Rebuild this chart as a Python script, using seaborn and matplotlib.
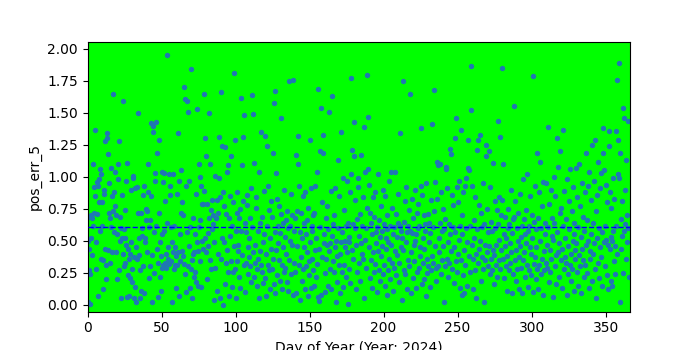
import numpy as np
import pandas as pd
import matplotlib
matplotlib.use("Agg")
import matplotlib.pyplot as plt
import seaborn as sns

samples_per_day = 3
mean_line = 0.61
x_label = "Day of Year (Year: 2024)"
y_label = "pos_err_5"

# pos_err_5 values, 3 samples per day, day 0..365 (10 days per row)
pos_err_5 = [
 0.02,0.50,0.69, 0.27,0.44,0.01, 0.24,0.52,0.70, 0.39,0.68,0.62, 1.10,0.92,0.72, 1.37,0.85,0.49, 0.28,0.96,0.71, 0.07,0.93,0.80, 0.98,0.58,1.06, 0.36,1.02,0.62,
 0.80,0.35,0.12, 0.87,0.90,0.44, 1.28,0.31,0.20, 1.30,1.34,0.43, 1.18,0.72,0.95, 0.33,0.68,0.61, 1.07,0.85,0.41, 1.65,0.73,0.88, 0.57,0.77,1.04, 0.41,0.70,0.55,
 0.20,0.98,1.10, 0.27,1.28,0.69, 0.50,0.60,0.05, 0.52,0.86,0.40, 1.59,0.59,0.30, 0.33,0.52,0.74, 0.47,0.97,0.06, 1.11,0.23,0.44, 0.36,0.07,0.21, 0.40,0.49,0.90,
 0.28,0.18,0.99, 1.01,0.05,0.37, 0.91,0.14,0.45, 0.02,0.36,0.92, 1.50,0.72,0.52, 0.39,0.05,0.27, 0.72,0.11,0.60, 0.54,0.30,0.86, 0.93,0.09,0.52, 0.49,0.66,0.75,
 0.73,0.41,0.88, 1.10,0.61,0.21, 0.66,0.30,0.85, 1.42,0.39,0.02, 1.35,1.40,0.57, 0.25,0.97,1.03, 1.43,0.62,0.44, 1.19,0.33,0.06, 1.29,0.72,0.22, 0.49,0.38,0.11,
 1.04,0.55,0.29, 0.96,0.31,0.58, 1.03,0.33,0.81, 0.40,0.29,0.64, 1.95,0.45,0.36, 1.02,0.32,0.86, 0.93,0.61,0.34, 0.49,0.02,0.41, 1.02,0.62,0.28, 0.31,0.45,0.13,
 0.38,0.87,0.31, 1.34,0.41,0.07, 0.97,0.34,0.55, 0.72,1.05,0.42, 0.80,0.38,0.70, 1.70,0.32,0.24, 1.61,0.93,0.10, 1.59,0.57,0.30, 1.51,0.97,0.46, 0.13,0.61,0.28,
 1.84,0.35,0.05, 0.68,0.40,0.22, 0.41,0.26,0.55, 0.87,0.18,0.49, 1.53,0.15,0.42, 1.10,0.61,0.34, 1.00,0.66,0.14, 0.93,0.50,0.79, 0.79,0.44,0.89, 1.65,1.30,0.52,
 1.16,0.41,0.20, 0.79,0.46,0.56, 1.50,0.68,0.35, 1.10,0.74,0.28, 0.59,0.82,0.63, 0.70,0.49,0.04, 1.01,0.29,0.68, 0.68,0.11,0.82, 0.40,0.72,0.99, 1.31,0.84,0.05,
 1.66,0.36,0.52, 1.24,0.88,0.00, 0.49,0.77,0.16, 1.23,0.33,0.71, 1.04,0.43,0.26, 1.09,0.68,0.07, 0.85,0.54,0.34, 1.16,0.14,0.62, 0.26,0.80,0.46, 1.81,1.29,0.28,
 0.58,0.05,0.72, 0.88,0.34,0.47, 0.42,0.68,0.22, 0.75,0.13,0.58, 1.62,1.09,0.39, 1.31,0.81,0.31, 1.48,0.64,0.10, 0.33,0.57,0.86, 0.78,0.24,0.45, 0.52,0.37,0.68,
 0.30,0.91,0.18, 1.64,0.61,0.41, 1.49,1.11,0.22, 0.47,0.33,0.76, 0.84,0.28,0.15, 0.36,0.58,0.05, 1.04,0.42,0.64, 1.35,0.31,0.26, 0.69,0.17,0.49, 0.89,0.55,0.21,
 1.32,0.40,0.07, 1.24,0.62,0.31, 0.93,0.27,0.74, 0.52,0.12,0.44, 0.81,0.69,0.28, 1.19,0.36,0.16, 1.58,0.57,0.09, 1.67,1.03,0.43, 0.83,0.23,0.62, 0.48,0.77,0.35,
 0.56,0.19,0.71, 1.46,0.31,0.12, 0.64,0.45,0.26, 0.90,0.29,0.53, 0.40,0.66,0.18, 0.73,0.11,0.60, 1.75,0.35,0.50, 0.62,0.87,0.24, 0.47,0.70,0.08, 1.76,0.33,0.58,
 0.68,0.26,0.09, 1.17,0.73,0.46, 1.32,1.10,0.31, 0.93,0.57,0.04, 0.72,0.37,0.19, 0.52,0.85,0.28, 0.64,0.45,0.12, 0.88,0.30,0.55, 0.41,0.66,0.07, 0.76,0.23,0.34,
 1.29,0.49,0.13, 0.91,0.36,0.62, 0.58,0.27,0.70, 0.72,0.15,0.43, 0.93,0.52,0.22, 1.04,0.32,0.06, 1.69,0.44,0.03, 1.20,0.61,0.08, 1.54,0.80,0.37, 1.33,1.19,0.48,
 0.55,0.25,0.10, 0.68,0.36,0.47, 0.77,0.15,0.59, 1.51,0.42,0.28, 0.48,0.89,0.12, 1.63,0.54,0.34, 0.63,0.26,0.70, 0.91,0.45,0.02, 0.50,0.18,0.38, 1.13,0.60,0.31,
 0.85,0.40,0.09, 1.35,0.49,0.26, 0.57,0.99,0.14, 0.74,0.31,0.45, 0.50,0.62,0.22, 0.97,0.41,0.01, 0.64,0.28,0.53, 0.49,0.88,0.17, 1.77,1.02,0.43, 1.21,0.63,0.36,
 1.43,1.16,0.60, 0.82,0.47,0.12, 0.67,0.26,0.92, 0.99,0.33,0.54, 0.71,0.19,0.48, 1.17,0.62,0.40, 0.84,0.36,0.05, 1.39,1.04,0.51, 0.60,0.29,0.76, 1.80,1.47,1.06,
 0.94,0.45,0.21, 0.72,0.64,0.35, 0.55,0.13,0.84, 0.41,0.26,0.69, 0.88,0.32,0.57, 0.48,0.61,0.10, 1.02,0.42,0.27, 0.66,0.19,0.53, 0.77,0.38,0.46, 0.58,0.24,0.90,
 0.63,0.31,0.15, 0.85,0.44,0.52, 0.70,0.59,0.08, 0.49,0.27,0.36, 0.97,0.62,0.20, 1.04,0.47,0.33, 0.76,0.55,0.11, 0.61,0.29,0.42, 1.04,0.71,0.23, 0.53,0.39,0.64,
 0.87,0.33,0.18, 1.34,0.62,0.45, 0.58,0.52,0.04, 1.75,0.43,0.27, 0.65,0.24,0.81, 0.92,0.49,0.12, 0.57,0.62,0.35, 0.74,0.30,0.58, 1.65,0.41,0.09, 0.83,0.56,0.21,
 0.68,0.34,0.47, 0.90,0.50,0.13, 0.55,0.26,0.72, 0.79,0.60,0.29, 0.62,0.45,0.38, 1.38,0.93,0.16, 0.86,0.33,0.52, 0.70,0.20,0.44, 0.58,0.63,0.07, 0.95,0.36,0.25,
 0.71,0.30,0.49, 0.64,0.56,0.14, 0.82,0.27,0.38, 1.41,0.61,0.33, 1.68,0.73,0.46, 0.96,0.29,0.19, 1.12,0.83,0.30, 1.09,0.52,0.41, 1.10,0.64,0.24, 0.88,0.35,0.58,
 0.75,0.46,0.02, 0.59,0.30,0.67, 1.08,1.06,0.36, 0.91,0.49,0.22, 0.63,0.33,0.55, 1.22,1.18,0.42, 0.86,0.28,0.61, 0.78,0.45,0.17, 1.30,0.57,0.34, 1.46,0.92,0.26,
 0.80,0.40,0.51, 0.97,0.62,0.13, 1.37,0.35,0.08, 0.70,0.55,0.23, 0.88,0.43,0.09, 0.93,0.31,0.60, 0.99,0.49,0.15, 1.29,1.07,0.38, 1.05,0.62,0.26, 1.87,1.52,0.47,
 0.93,0.36,0.12, 0.66,0.52,0.27, 0.84,0.40,0.05, 1.21,0.59,0.33, 1.29,0.78,0.44, 1.33,0.50,0.19, 0.72,0.37,0.61, 0.95,0.28,0.02, 0.63,0.47,0.35, 1.25,1.16,0.41,
 0.75,0.30,0.57, 1.20,0.46,0.24, 0.92,0.36,0.65, 0.58,0.27,0.43, 1.11,0.39,0.16, 0.81,0.60,0.31, 0.47,0.22,0.74, 1.44,0.63,0.35, 0.84,0.51,0.28, 1.31,0.70,0.43,
 1.85,0.82,0.36, 1.10,0.55,0.21, 0.69,0.46,0.30, 0.52,0.38,0.11, 0.75,0.60,0.27, 0.63,0.33,0.48, 0.90,0.41,0.09, 0.56,0.24,0.67, 1.55,0.69,0.35, 0.81,0.43,0.19,
 0.60,0.28,0.50, 0.72,0.37,0.12, 0.87,0.46,0.29, 0.53,0.62,0.09, 0.98,0.35,0.41, 0.67,0.22,0.55, 0.74,0.48,0.31, 1.02,0.58,0.14, 0.62,0.27,0.45, 0.85,0.40,0.23,
 0.70,0.52,0.10, 1.79,0.65,0.32, 0.93,0.37,0.20, 0.59,0.45,0.28, 1.19,0.68,0.12, 0.88,0.31,0.50, 1.12,0.60,0.24, 0.77,0.36,0.08, 0.96,0.42,0.27, 0.64,0.55,0.33,
 0.95,0.29,0.47, 1.39,0.61,0.18, 0.79,0.43,0.26, 0.90,0.36,0.54, 0.68,0.51,0.06, 1.00,0.64,0.30, 0.85,0.39,0.16, 1.30,0.57,0.41, 1.08,0.48,0.22, 1.20,0.72,0.35,
 0.76,0.44,0.13, 1.37,0.62,0.28, 0.89,0.52,0.37, 0.67,0.33,0.08, 0.98,0.46,0.24, 0.81,0.59,0.31, 1.06,0.40,0.19, 0.73,0.28,0.50, 0.92,0.55,0.11, 0.64,0.36,0.43,
 1.07,0.48,0.26, 0.84,0.61,0.15, 1.10,0.39,0.30, 0.77,0.53,0.09, 0.95,0.44,0.35, 0.69,0.58,0.22, 0.88,0.31,0.47, 1.19,0.66,0.25, 0.93,0.50,0.13, 1.04,0.42,0.36,
 0.82,0.55,0.19, 1.25,0.64,0.40, 0.97,0.48,0.28, 1.29,0.73,0.05, 0.86,0.52,0.33, 1.12,0.60,0.21, 0.91,0.45,0.37, 1.03,0.57,0.15, 1.19,1.38,0.49, 1.05,0.62,0.30,
 0.94,0.51,0.23, 0.80,0.47,0.12, 1.36,1.24,0.44, 0.88,0.53,0.19, 0.76,0.50,0.15, 0.99,0.58,0.34, 0.83,0.46,0.24, 1.36,0.62,0.40, 1.76,1.29,1.02, 1.89,0.99,0.02,
 1.19,0.67,0.44, 0.81,0.54,0.25, 1.54,1.46,0.58, 0.90,0.63,0.36, 1.13,0.70,0.49, 1.44,0.60,0.22,
]

day_of_year = np.arange(len(pos_err_5)) / samples_per_day
df = pd.DataFrame({"day": day_of_year, "pos_err_5": pos_err_5})

fig, ax = plt.subplots(figsize=(7, 3.5), dpi=100)
ax.set_facecolor("#00ff00")
sns.scatterplot(data=df, x="day", y="pos_err_5", s=15, color="#1f77b4",
                linewidth=0, ax=ax, zorder=2)
ax.axhline(mean_line, color="blue", linestyle="--", linewidth=1, zorder=3)
ax.set_xlim(0, 366.5)
ax.set_ylim(-0.052, 2.054)
ax.set_xlabel(x_label)
ax.set_ylabel(y_label)
fig.savefig("out.png", dpi=100)
